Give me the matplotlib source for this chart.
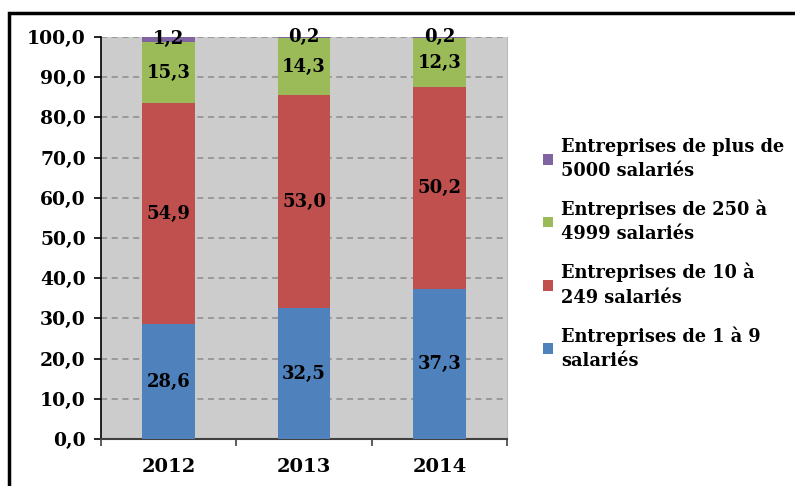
import numpy as np
import matplotlib
matplotlib.use("Agg")
import matplotlib.pyplot as plt
from matplotlib.patches import Rectangle

plt.rcParams.update({
    "font.family": ["DejaVu Serif"],
    "font.weight": "bold",
})

years = ["2012", "2013", "2014"]
series_names = [
    "Entreprises de 1 à 9\nsalariés",
    "Entreprises de 10 à\n249 salariés",
    "Entreprises de 250 à\n4999 salariés",
    "Entreprises de plus de\n5000 salariés",
]
small = [28.6, 32.5, 37.3]
medium = [54.9, 53.0, 50.2]
large = [15.3, 14.3, 12.3]
huge = [1.2, 0.2, 0.2]
colors = ["#4F81BD", "#C0504D", "#9BBB59", "#8064A2"]

fig = plt.figure(figsize=(7.95, 4.86), dpi=100)
ax = fig.add_axes([101 / 795, 47 / 486, 406 / 795, 402 / 486])
ax.set_facecolor("#CCCCCC")

x = np.arange(len(years))
bottom = np.zeros(len(years))
handles = []
for vals, name, c in zip([small, medium, large, huge], series_names, colors):
    vals = np.array(vals)
    bars = ax.bar(x, vals, width=0.39, bottom=bottom, color=c, label=name, zorder=3)
    handles.append(bars)
    for xi, b, v in zip(x, bottom, vals):
        ax.text(xi, b + v / 2, f"{v:.1f}".replace(".", ","), ha="center", va="center",
                fontsize=13, fontweight="bold", color="black", zorder=4)
    bottom += vals

ax.set_xlim(-0.5, 2.5)
ax.set_ylim(0, 100)
ax.set_yticks(np.arange(0, 101, 10))
ax.set_yticklabels([f"{v:.1f}".replace(".", ",") for v in np.arange(0, 101, 10)],
                   fontsize=13.5, fontweight="bold")
ax.set_xticks(x)
ax.set_xticklabels(years, fontsize=14, fontweight="bold")
ax.set_xticks([-0.5, 0.5, 1.5, 2.5], minor=True)
ax.tick_params(axis="x", which="major", length=0, pad=14)
ax.tick_params(axis="x", which="minor", length=5, width=1.2, color="#404040", direction="out")
ax.tick_params(axis="y", length=5, width=1.2, direction="out", pad=6)
ax.yaxis.grid(True, linestyle=(0, (4, 3)), color="#8C8C8C", linewidth=1.1, zorder=1)
ax.set_axisbelow(True)

ax.spines["top"].set_visible(False)
ax.spines["right"].set_color("#BBBBBB")
ax.spines["left"].set_color("black")
ax.spines["left"].set_linewidth(1.2)
ax.spines["bottom"].set_color("#404040")
ax.spines["bottom"].set_linewidth(1.5)

leg = fig.legend(handles[::-1], series_names[::-1], loc="center left",
                 bbox_to_anchor=(527 / 795, 0.478), frameon=False,
                 prop={"family": "DejaVu Serif", "weight": "bold", "size": 12.8},
                 handlelength=0.55, handleheight=0.55, handletextpad=0.45,
                 labelspacing=1.1)
for t in leg.get_texts():
    t.set_linespacing(1.45)

# outer frame
fig.patches.append(Rectangle((9 / 795, -0.2), 1.2, 0.2 + (486 - 13) / 486,
                             transform=fig.transFigure, fill=False,
                             edgecolor="black", linewidth=2.5))

fig.savefig("out.png", dpi=100)
